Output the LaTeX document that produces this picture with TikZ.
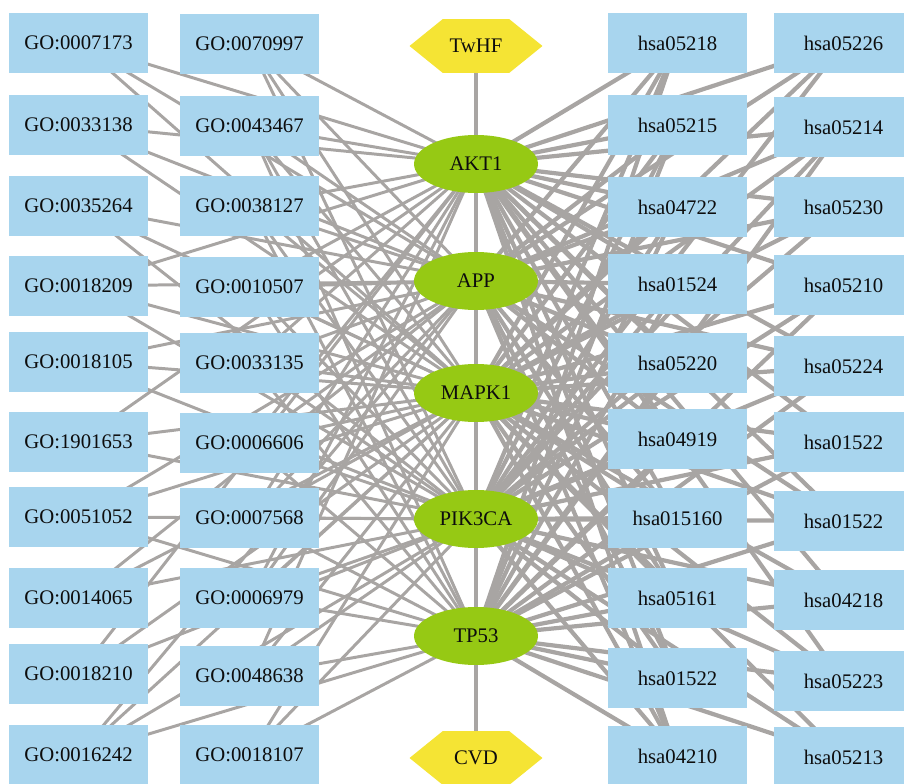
\documentclass[tikz,border=0pt]{standalone}
\usepackage{fontspec}
\setmainfont{Liberation Serif}
\usetikzlibrary{shapes.geometric,shapes.symbols,backgrounds}
\definecolor{termBlue}{RGB}{168,213,238}
\definecolor{geneGreen}{RGB}{150,201,20}
\definecolor{drugYellow}{RGB}{245,228,52}
\definecolor{edgeGray}{RGB}{168,165,163}

\begin{document}
\begin{tikzpicture}[%
    x=0.02cm, y=-0.02cm,
    every node/.style={
        font=\fontsize{11.8}{14}\selectfont,
        text=black!95,
        inner sep=0pt,
    },
    termbox/.style={fill=termBlue, minimum width=2.78cm, minimum height=1.2cm},
    genenode/.style={ellipse, fill=geneGreen, minimum width=2.48cm, minimum height=1.16cm},
    hexnode/.style={signal, signal to=east and west, signal pointer angle=78,
        fill=drugYellow, minimum width=2.66cm, minimum height=1.08cm},
    goedge/.style={edgeGray, line width=1.7pt},
    keggedge/.style={edgeGray, line width=2.4pt},
]
\path[use as bounding box] (0,0) rectangle (904,784);
\clip (0,0) rectangle (904,784);

% GO terms, outer and inner column
\foreach \i/\y/\lab in {1/43/GO:0007173, 2/125/GO:0033138, 3/206/GO:0035264,
    4/286/GO:0018209, 5/362/GO:0018105, 6/442/GO:1901653, 7/517/GO:0051052,
    8/598/GO:0014065, 9/674/GO:0018210, 10/755/GO:0016242}{
    \node[termbox] (ga\i) at (78.5,\y) {\lab};
}
\foreach \i/\y/\lab in {1/44/GO:0070997, 2/126/GO:0043467, 3/206/GO:0038127,
    4/287/GO:0010507, 5/363/GO:0033135, 6/443/GO:0006606, 7/518/GO:0007568,
    8/598/GO:0006979, 9/676/GO:0048638, 10/755/GO:0018107}{
    \node[termbox] (gb\i) at (249.5,\y) {\lab};
}

% KEGG pathways, inner and outer column
\foreach \i/\y/\lab in {1/43/hsa05218, 2/125/hsa05215, 3/207/hsa04722,
    4/284/hsa01524, 5/363/hsa05220, 6/439/hsa04919, 7/518/hsa015160,
    8/598/hsa05161, 9/678/hsa01522, 10/756/hsa04210}{
    \node[termbox] (ka\i) at (677.5,\y) {\lab};
}
\foreach \i/\y/\lab in {1/43/hsa05226, 2/127/hsa05214, 3/207/hsa05230,
    4/285/hsa05210, 5/366/hsa05224, 6/442/hsa01522, 7/521/hsa01522,
    8/600/hsa04218, 9/681/hsa05223, 10/757/hsa05213}{
    \node[termbox] (kb\i) at (843.5,\y) {\lab};
}

% targets in the middle
\node[hexnode] (twhf) at (476,46) {TwHF};
\node[genenode] (akt) at (476,164) {AKT1};
\node[genenode] (app) at (476,281) {APP};
\node[genenode] (mapk) at (476,393) {MAPK1};
\node[genenode] (pik) at (476,519) {PIK3CA};
\node[genenode] (tp) at (476,636) {TP53};
\node[hexnode] (cvd) at (476,758) {CVD};

\begin{pgfonlayer}{background}
% vertical chain
\draw[goedge, line width=2pt] (twhf.center) -- (akt.center) -- (app.center)
    -- (mapk.center) -- (pik.center) -- (tp.center) -- (cvd.center);

% GO edges
\foreach \t/\gs in {ga1/{akt,app,mapk}, ga2/{akt,app,mapk}, ga3/{app,mapk,pik},
    ga4/{akt,app,mapk,pik}, ga5/{app,mapk,pik}, ga6/{akt,mapk,pik},
    ga7/{app,mapk,pik,tp}, ga8/{app,mapk,pik}, ga9/{akt,mapk,pik},
    ga10/{app,mapk,pik,tp},
    gb1/{akt,app,mapk,pik}, gb2/{akt,app,mapk,pik,tp}, gb3/{akt,app,mapk,pik,tp},
    gb4/{akt,app,mapk,pik,tp}, gb5/{akt,app,mapk,pik,tp}, gb6/{akt,app,mapk,pik,tp},
    gb7/{akt,app,mapk,pik,tp}, gb8/{akt,app,mapk,pik,tp}, gb9/{akt,mapk,pik,tp},
    gb10/{mapk,pik,tp}}{
    \foreach \g in \gs {
        \draw[goedge] (\t.center) -- (\g.center);
    }
}

% KEGG edges
\foreach \i in {1,...,10}{
    \foreach \g in {akt,app,mapk,pik,tp}{
        \draw[keggedge] (ka\i.center) -- (\g.center);
    }
}
\foreach \t/\gs in {kb1/{akt,app,mapk,pik}, kb2/{akt,app,mapk,pik,tp},
    kb3/{akt,app,mapk,pik}, kb4/{akt,mapk,pik,tp}, kb5/{akt,app,mapk,pik,tp},
    kb6/{akt,mapk,pik,tp}, kb7/{akt,app,mapk,pik,tp}, kb8/{akt,mapk,pik,tp},
    kb9/{akt,mapk,pik,tp}, kb10/{mapk,pik,tp}}{
    \foreach \g in \gs {
        \draw[keggedge] (\t.center) -- (\g.center);
    }
}
\end{pgfonlayer}
\end{tikzpicture}
\end{document}
